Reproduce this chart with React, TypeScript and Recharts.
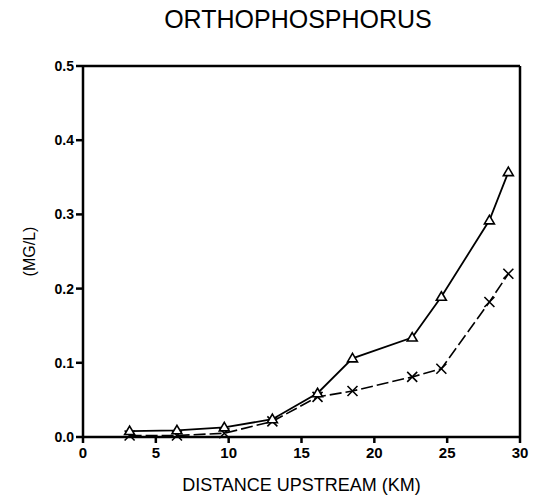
import React from "react";
import {
  LineChart,
  Line,
  XAxis,
  YAxis,
  ReferenceLine,
  Label,
} from "recharts";

// distance upstream (km) at each station
const distanceKm = [3.2, 6.45, 9.7, 13.0, 16.1, 18.5, 22.6, 24.6, 27.9, 29.2];
// triangle series (mg/L)
const triangleSeries = [0.008, 0.009, 0.013, 0.024, 0.059, 0.106, 0.134, 0.189, 0.292, 0.357];
// cross series (mg/L)
const crossSeries = [0.002, 0.002, 0.005, 0.021, 0.054, 0.062, 0.081, 0.092, 0.182, 0.22];

const xTicks = [0, 5, 10, 15, 20, 25, 30];
const yTicks = [0, 0.1, 0.2, 0.3, 0.4, 0.5];

const data = distanceKm.map((d, i) => ({
  km: d,
  tri: triangleSeries[i],
  cross: crossSeries[i],
}));

const FONT = "'Liberation Sans', Arial, sans-serif";

const TriangleDot = (props: any) => {
  const { cx, cy } = props;
  if (cx == null || cy == null) return null;
  const s = 5;
  return (
    <path
      d={`M${cx},${cy - s} L${cx + s},${cy + s * 0.7} L${cx - s},${cy + s * 0.7} Z`}
      fill="#fff"
      stroke="#000"
      strokeWidth={1.6}
    />
  );
};

const CrossDot = (props: any) => {
  const { cx, cy } = props;
  if (cx == null || cy == null) return null;
  const s = 5;
  return (
    <path
      d={`M${cx - s},${cy - s} L${cx + s},${cy + s} M${cx - s},${cy + s} L${cx + s},${cy - s}`}
      stroke="#000"
      strokeWidth={1.6}
      fill="none"
    />
  );
};

const App: React.FC = () => {
  return (
    <div style={{ position: "absolute", left: 0, top: 0, background: "#fff" }}>
      <LineChart
        width={533}
        height={496}
        data={data}
        margin={{ top: 66, right: 13, bottom: 0, left: 0 }}
      >
        <text
          x={298}
          y={28}
          textAnchor="middle"
          fontFamily={FONT}
          fontSize={25}
          fill="#000"
        >
          ORTHOPHOSPHORUS
        </text>
        <XAxis
          dataKey="km"
          type="number"
          domain={[0, 30]}
          ticks={xTicks}
          height={59}
          stroke="#000"
          strokeWidth={2.5}
          tickSize={6}
          tick={{ fill: "#000", fontSize: 15, fontFamily: FONT, fontWeight: "bold" }}
          tickMargin={4}
        >
          <Label
            value="DISTANCE UPSTREAM (KM)"
            position="insideBottom"
            offset={5}
            style={{ fill: "#000", fontSize: 18, fontFamily: FONT }}
          />
        </XAxis>
        <YAxis
          type="number"
          domain={[0, 0.5]}
          ticks={yTicks}
          width={83}
          stroke="#000"
          strokeWidth={2.5}
          tickSize={7}
          tickMargin={2}
          tickFormatter={(v: number) => v.toFixed(1)}
          tick={{ fill: "#000", fontSize: 14, fontFamily: FONT, fontWeight: "bold" }}
        >
          <Label
            value="(MG/L)"
            angle={-90}
            position="insideLeft"
            offset={29}
            style={{ fill: "#000", fontSize: 16, fontFamily: FONT, textAnchor: "middle" }}
          />
        </YAxis>
        <ReferenceLine y={0.5} stroke="#000" strokeWidth={2.5} ifOverflow="extendDomain" />
        <ReferenceLine x={30} stroke="#000" strokeWidth={2.5} ifOverflow="extendDomain" />
        <Line
          type="linear"
          dataKey="cross"
          stroke="#000"
          strokeWidth={1.6}
          strokeDasharray="12 4"
          dot={<CrossDot />}
          isAnimationActive={false}
        />
        <Line
          type="linear"
          dataKey="tri"
          stroke="#000"
          strokeWidth={1.8}
          dot={<TriangleDot />}
          isAnimationActive={false}
        />
      </LineChart>
    </div>
  );
};

export default App;
